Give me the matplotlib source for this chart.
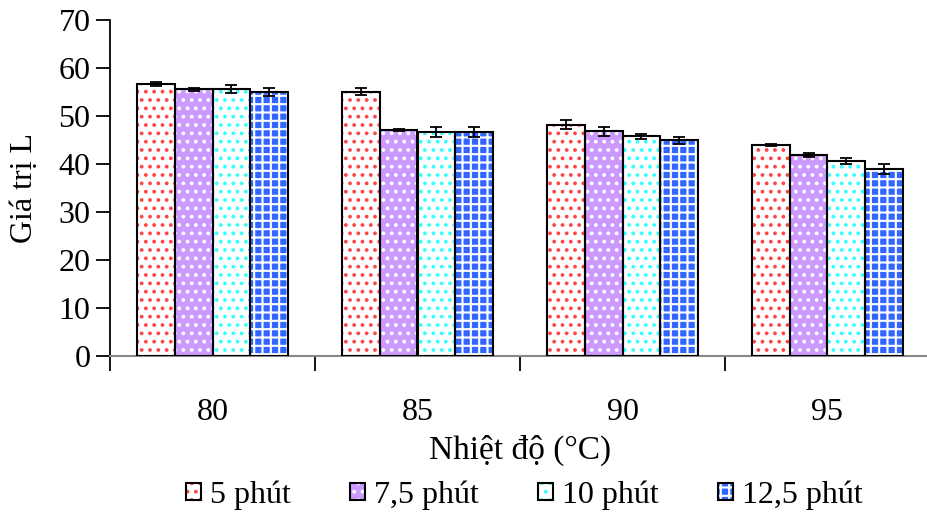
import matplotlib
matplotlib.use("Agg")
import matplotlib.pyplot as plt
import numpy as np

categories = ["80", "85", "90", "95"]
series_names = ["5 phút", "7,5 phút", "10 phút", "12,5 phút"]
values = [
    [56.7, 55.1, 48.2, 43.9],
    [55.6, 47.1, 46.8, 41.9],
    [55.6, 46.7, 45.8, 40.6],
    [55.0, 46.7, 44.9, 38.9],
]
errors = [
    [0.35, 0.8, 1.0, 0.2],
    [0.3, 0.2, 0.9, 0.4],
    [0.8, 1.0, 0.5, 0.55],
    [0.75, 1.0, 0.7, 1.0],
]
yticks = [0, 10, 20, 30, 40, 50, 60, 70]

faces = ["white", "#CC99FF", "white", "#3366FF"]
hatch_colors = ["#FF4444", "white", "#33FFFF", "white"]
hatches = ["..", "..", "..", "++"]

plt.rcParams["font.family"] = ["Liberation Serif", "DejaVu Serif"]
plt.rcParams["hatch.linewidth"] = 1.5

fig = plt.figure(figsize=(9.27, 5.15), dpi=100)
ax = fig.add_axes([110 / 927, 1 - 356 / 515, 820 / 927, (356 - 20) / 515])

x = np.arange(len(categories))
bw = 0.184
handles = []
for i in range(4):
    pos = x + (i - 1.5) * bw
    fill = ax.bar(pos, values[i], bw, color=faces[i], edgecolor=hatch_colors[i],
                  hatch=hatches[i], linewidth=0, zorder=2)
    outline = ax.bar(pos, values[i], bw, facecolor="none", edgecolor="black",
                     linewidth=1.5, zorder=3)
    ax.errorbar(pos, values[i], yerr=errors[i], fmt="none", ecolor="black",
                elinewidth=1.3, capsize=4.5, capthick=1.3, zorder=4)
    handles.append((fill[0], outline[0]))

ax.set_xlim(-0.5, 3.5)
ax.set_ylim(0, 70)
ax.set_yticks(yticks)
ax.set_xticks(x)
ax.set_xticklabels(categories)
ax.set_xticks(np.arange(-0.5, 4.0, 1.0), minor=True)
ax.tick_params(axis="x", which="major", length=0, labelsize=23, pad=30)
ax.tick_params(axis="x", which="minor", length=11, width=1.3, color="black", direction="out")
ax.tick_params(axis="y", length=10, width=1.3, labelsize=23, direction="out", pad=4)

for s in ["top", "right"]:
    ax.spines[s].set_visible(False)
ax.spines["left"].set_linewidth(1.3)
ax.spines["bottom"].set_color("#888888")
ax.spines["bottom"].set_linewidth(1.5)

ax.set_xlabel("Nhiệt độ (°C)", fontsize=24, labelpad=6)
ax.set_ylabel("Giá trị L", fontsize=23, labelpad=14)

fig.legend(handles, series_names, loc="center", bbox_to_anchor=(0.566, 1 - 495 / 515),
           ncol=4, frameon=False, fontsize=23, handlelength=0.45, handleheight=0.45,
           columnspacing=1.85, handletextpad=0.3)

fig.savefig("out.png", dpi=100)
